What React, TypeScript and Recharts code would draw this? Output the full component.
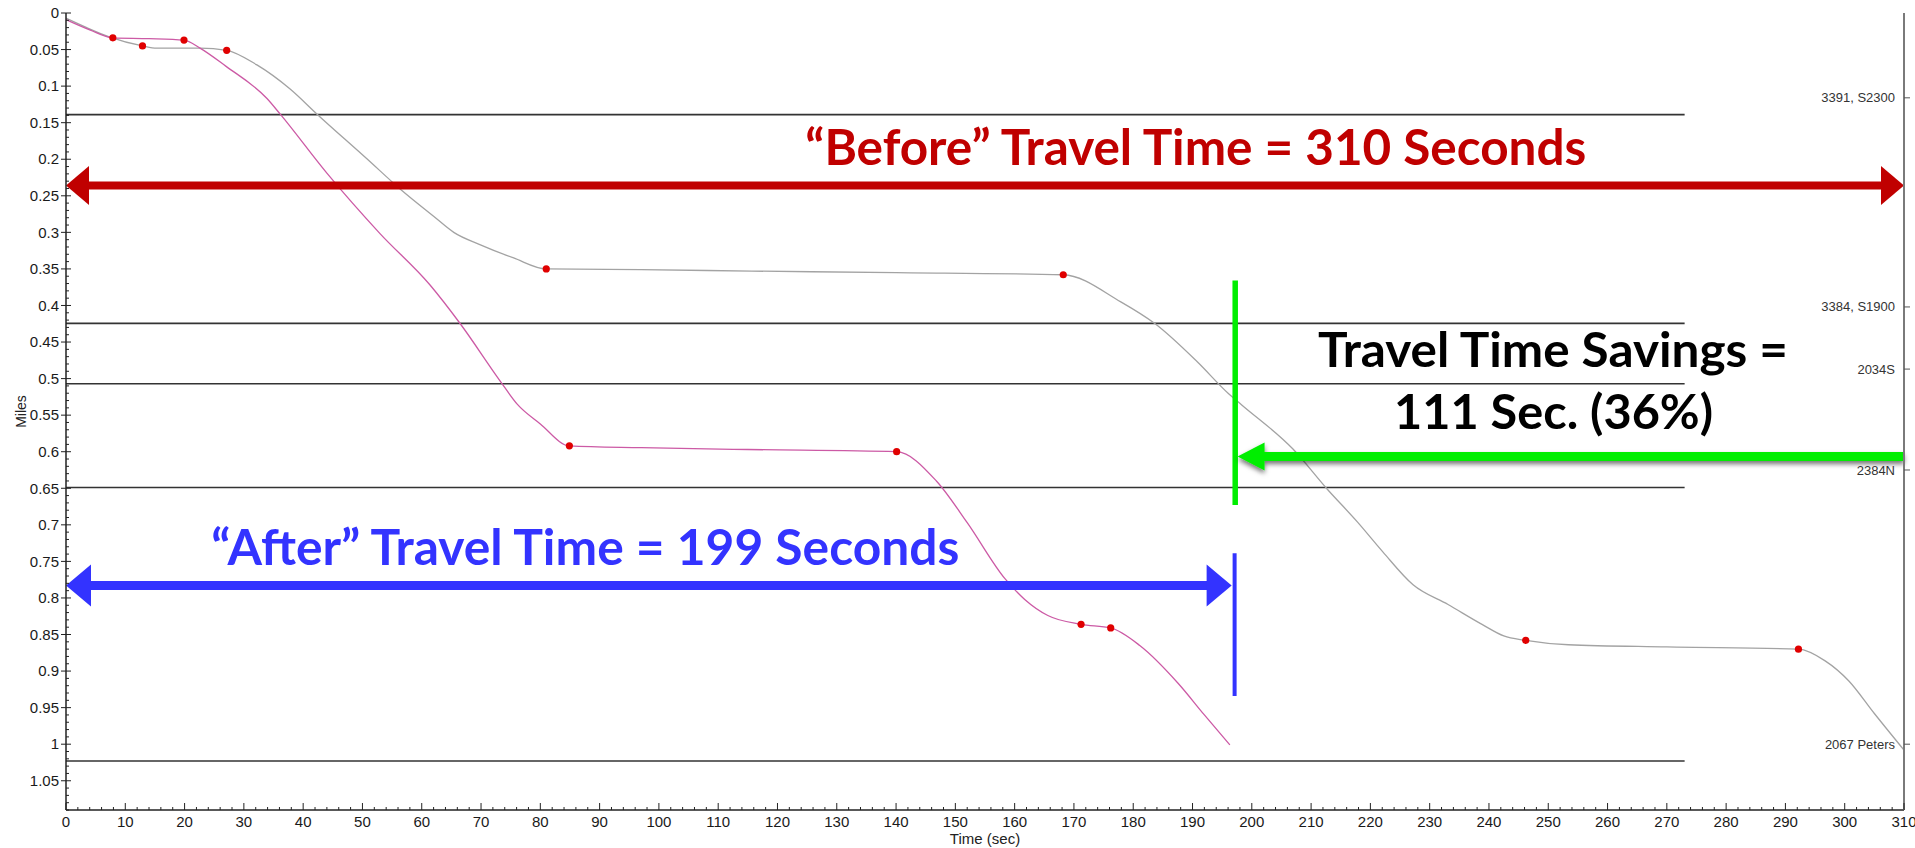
import { ComposedChart, Line, XAxis, YAxis, ReferenceLine, ReferenceDot } from 'recharts';

// "After" run (pink)
const afterTime = [0, 4, 7.9, 14, 19.9, 22.6, 27, 33.9, 36.1, 44, 53, 61.4, 66.5, 73.2, 76.1, 80, 84.9, 97, 115, 140.1, 146.8, 152, 158.4, 161.7, 165.6, 171.2, 176.2, 181.1, 187.6, 192, 196.3];
const afterMiles = [0.009, 0.023, 0.034, 0.035, 0.037, 0.048, 0.073, 0.117, 0.138, 0.219, 0.302, 0.372, 0.425, 0.503, 0.535, 0.562, 0.592, 0.5945, 0.597, 0.6, 0.64, 0.697, 0.774, 0.802, 0.824, 0.836, 0.841, 0.865, 0.917, 0.96, 1.001];
const afterStopTime = [7.9, 19.9, 84.9, 140.1, 171.2, 176.2];

// "Before" run (gray)
const beforeTime = [0, 3.5, 7.4, 12.9, 15.3, 22.6, 27.1, 32.2, 37.8, 42.3, 50.7, 56.4, 62, 65.4, 69.9, 75.5, 81, 97, 115.7, 140, 168.2, 177.9, 183.7, 190.8, 196, 198.3, 206.9, 212.7, 217.8, 222.1, 227.2, 233.1, 238.9, 242.5, 246.2, 253.4, 270, 292.2, 296.7, 300.7, 305, 310];
const beforeMiles = [0.007, 0.02, 0.033, 0.045, 0.048, 0.048, 0.051, 0.071, 0.104, 0.138, 0.199, 0.241, 0.278, 0.3, 0.317, 0.335, 0.35, 0.351, 0.353, 0.355, 0.358, 0.395, 0.425, 0.477, 0.52, 0.536, 0.596, 0.651, 0.696, 0.737, 0.782, 0.809, 0.8365, 0.852, 0.858, 0.864, 0.867, 0.87, 0.886, 0.9135, 0.958, 1.008];
const beforeStopTime = [12.9, 27.1, 81, 168.2, 246.2, 292.2];

// intersections on the right axis
const stationMiles = [0.116, 0.402, 0.487, 0.625, 1.0];
const stationNames = ['3391, S2300', '3384, S1900', '2034S', '2384N', '2067 Peters'];
const stopBarMiles = [0.139, 0.4245, 0.507, 0.649, 1.023];
const stopBarEnd = 273;

const xMajorTicks = [0, 10, 20, 30, 40, 50, 60, 70, 80, 90, 100, 110, 120, 130, 140, 150, 160, 170, 180, 190, 200, 210, 220, 230, 240, 250, 260, 270, 280, 290, 300, 310];
const yMajorTicks = [0, 0.05, 0.1, 0.15, 0.2, 0.25, 0.3, 0.35, 0.4, 0.45, 0.5, 0.55, 0.6, 0.65, 0.7, 0.75, 0.8, 0.85, 0.9, 0.95, 1, 1.05];

// minor ticks every 2 s / 0.01 mi
const xTicks = Array.from({ length: 156 }, (_, i) => i * 2);
const yTicks = Array.from({ length: 110 }, (_, i) => +(i / 100).toFixed(2));

const afterData = afterTime.map((t, i) => ({ t, m: afterMiles[i] }));
const beforeData = beforeTime.map((t, i) => ({ t, m: beforeMiles[i] }));

const AXIS_FONT = "'Liberation Sans', Arial, sans-serif";
const NOTE_FONT = "Lato, 'Open Sans', sans-serif";

const BottomTick = (p: any) => {
  const { x, y, payload } = p;
  const major = xMajorTicks.includes(payload.value);
  return (
    <g>
      <line x1={x} y1={y} x2={x} y2={y - (major ? 7 : 3)} stroke="#222" strokeWidth={1} />
      {major && (
        <text x={x} y={y + 17} textAnchor="middle" fontSize={15} fill="#1a1a1a" fontFamily={AXIS_FONT}>
          {payload.value}
        </text>
      )}
    </g>
  );
};

const TopTick = (p: any) => {
  const { x, y, payload } = p;
  const major = xMajorTicks.includes(payload.value);
  return <line x1={x} y1={y} x2={x} y2={y + (major ? 7 : 3)} stroke="#222" strokeWidth={1} />;
};

const LeftTick = (p: any) => {
  const { x, y, payload } = p;
  const major = yMajorTicks.includes(payload.value);
  if (!major) return <line x1={x} y1={y} x2={x + 3} y2={y} stroke="#222" strokeWidth={1} />;
  return (
    <g>
      <line x1={x - 5} y1={y} x2={x + 5} y2={y} stroke="#222" strokeWidth={1} />
      <text x={x - 7} y={y} dy="0.35em" textAnchor="end" fontSize={15} fill="#1a1a1a" fontFamily={AXIS_FONT}>
        {payload.value}
      </text>
    </g>
  );
};

// station label drawn at the right edge of the plot (x = 310 s)
const stationMark = (name: string) => (p: any) => (
  <g>
    <line x1={p.cx} y1={p.cy} x2={p.cx + 6} y2={p.cy} stroke="#555" strokeWidth={1} />
    <text x={p.cx - 9} y={p.cy} dy="0.35em" textAnchor="end" fontSize={13} fill="#333" fontFamily={AXIS_FONT}>
      {name}
    </text>
  </g>
);

const stopDot = (stops: number[]) => (p: any) => {
  if (!stops.includes(p.payload.t)) return <g key={p.index} />;
  return <circle key={p.index} cx={p.cx} cy={p.cy} r={3.6} fill="#e00000" stroke="none" />;
};

function arrow(color: string, width: number, headLen: number, headHalf: number, heads: 'both' | 'start', shadow = false) {
  return (p: any) => {
    const { x1, x2, y1 } = p;
    const y = y1;
    const sx = x1 + headLen - 1;
    const ex = heads === 'both' ? x2 - headLen + 1 : x2;
    return (
      <g filter={shadow ? 'url(#greenShadow)' : undefined}>
        {shadow && (
          <defs>
            <filter id="greenShadow" x="-5%" y="-200%" width="110%" height="500%">
              <feDropShadow dx="0" dy="3" stdDeviation="2.5" floodColor="#000" floodOpacity="0.55" />
            </filter>
          </defs>
        )}
        <line x1={sx} y1={y} x2={ex} y2={y} stroke={color} strokeWidth={width} />
        <polygon points={`${x1},${y} ${x1 + headLen},${y - headHalf} ${x1 + headLen},${y + headHalf}`} fill={color} />
        {heads === 'both' && (
          <polygon points={`${x2},${y} ${x2 - headLen},${y - headHalf} ${x2 - headLen},${y + headHalf}`} fill={color} />
        )}
      </g>
    );
  };
}

const note = (text: string, color: string, size: number, length: number) => (p: any) => (
  <text
    x={p.cx}
    y={p.cy}
    textAnchor="middle"
    fontSize={size}
    fontWeight={700}
    fill={color}
    fontFamily={NOTE_FONT}
    textLength={length}
    lengthAdjust="spacingAndGlyphs"
  >
    {text}
  </text>
);

export default function App() {
  return (
    <div style={{ position: 'absolute', left: 0, top: 0, width: 1915, height: 848, background: '#fff' }}>
      <ComposedChart width={1915} height={848} margin={{ top: 13, right: 0, bottom: 0, left: 0 }}>
        <XAxis
          xAxisId="b"
          dataKey="t"
          type="number"
          domain={[0, 310]}
          ticks={xTicks}
          interval={0}
          tick={BottomTick}
          tickLine={false}
          tickSize={0}
          tickMargin={0}
          height={38}
          axisLine={{ stroke: '#222', strokeWidth: 1.5 }}
          label={{ value: 'Time (sec)', position: 'insideBottom', offset: 4, fontSize: 15, fill: '#222', fontFamily: AXIS_FONT }}
        />
        <XAxis
          xAxisId="top"
          orientation="top"
          type="number"
          domain={[0, 310]}
          ticks={xTicks}
          interval={0}
          tick={TopTick}
          tickLine={false}
          tickSize={0}
          tickMargin={0}
          height={0}
          axisLine={{ stroke: '#222', strokeWidth: 1.5 }}
        />
        <YAxis
          yAxisId="l"
          type="number"
          domain={[0, 1.09]}
          reversed
          ticks={yTicks}
          interval={0}
          tick={LeftTick}
          tickLine={false}
          tickSize={0}
          tickMargin={0}
          width={66}
          axisLine={{ stroke: '#222', strokeWidth: 1.5 }}
          label={{ value: 'Miles', angle: -90, position: 'insideLeft', offset: 21, fontSize: 14, fill: '#222', fontFamily: AXIS_FONT, style: { textAnchor: 'middle' } }}
        />
        <YAxis
          yAxisId="r"
          orientation="right"
          type="number"
          domain={[0, 1.09]}
          reversed
          ticks={[]}
          tick={false}
          tickLine={false}
          width={11}
          axisLine={{ stroke: '#7a7a7a', strokeWidth: 2 }}
        />

        {stopBarMiles.map(v => (
          <ReferenceLine
            key={v}
            xAxisId="b"
            yAxisId="l"
            segment={[{ x: 0, y: v }, { x: stopBarEnd, y: v }]}
            stroke="#333"
            strokeWidth={1.6}
          />
        ))}

        {stationMiles.map((v, i) => (
          <ReferenceDot
            key={stationNames[i]}
            xAxisId="b"
            yAxisId="l"
            x={310}
            y={v}
            r={0}
            ifOverflow="visible"
            shape={stationMark(stationNames[i])}
          />
        ))}

        <Line
          xAxisId="b"
          yAxisId="l"
          data={beforeData}
          dataKey="m"
          type="monotone"
          stroke="#a3a3a3"
          strokeWidth={1.3}
          dot={stopDot(beforeStopTime)}
          activeDot={false}
          isAnimationActive={false}
        />
        <Line
          xAxisId="b"
          yAxisId="l"
          data={afterData}
          dataKey="m"
          type="monotone"
          stroke="#cc5aa5"
          strokeWidth={1.3}
          dot={stopDot(afterStopTime)}
          activeDot={false}
          isAnimationActive={false}
        />

        {/* annotations */}
        <ReferenceLine
          xAxisId="b"
          yAxisId="l"
          segment={[{ x: 0, y: 0.236 }, { x: 310, y: 0.236 }]}
          shape={arrow('#C00000', 8, 23, 19.5, 'both')}
        />
        <ReferenceLine
          xAxisId="b"
          yAxisId="l"
          segment={[{ x: 0, y: 0.783 }, { x: 196.6, y: 0.783 }]}
          shape={arrow('#3333FF', 9, 25, 21, 'both')}
        />
        <ReferenceLine
          xAxisId="b"
          yAxisId="l"
          segment={[{ x: 197.1, y: 0.739 }, { x: 197.1, y: 0.934 }]}
          stroke="#3333FF"
          strokeWidth={4}
        />
        <ReferenceLine
          xAxisId="b"
          yAxisId="l"
          segment={[{ x: 197.2, y: 0.366 }, { x: 197.2, y: 0.673 }]}
          stroke="#00EE00"
          strokeWidth={5.5}
        />
        <ReferenceLine
          xAxisId="b"
          yAxisId="l"
          segment={[{ x: 197.6, y: 0.6065 }, { x: 310, y: 0.6065 }]}
          shape={arrow('#00EE00', 9, 27, 14, 'start', true)}
        />

        <ReferenceDot xAxisId="b" yAxisId="l" x={190.55} y={0.2072} r={0}
          shape={note('\u201CBefore\u201D Travel Time = 310 Seconds', '#C00000', 49, 781)} />
        <ReferenceDot xAxisId="b" yAxisId="l" x={87.6} y={0.7544} r={0}
          shape={note('\u201CAfter\u201D Travel Time = 199 Seconds', '#3333FF', 49, 748)} />
        <ReferenceDot xAxisId="b" yAxisId="l" x={250.8} y={0.4841} r={0}
          shape={note('Travel Time Savings =', '#000', 48, 470)} />
        <ReferenceDot xAxisId="b" yAxisId="l" x={250.9} y={0.569} r={0}
          shape={note('111 Sec. (36%)', '#000', 48, 319)} />
      </ComposedChart>
    </div>
  );
}
